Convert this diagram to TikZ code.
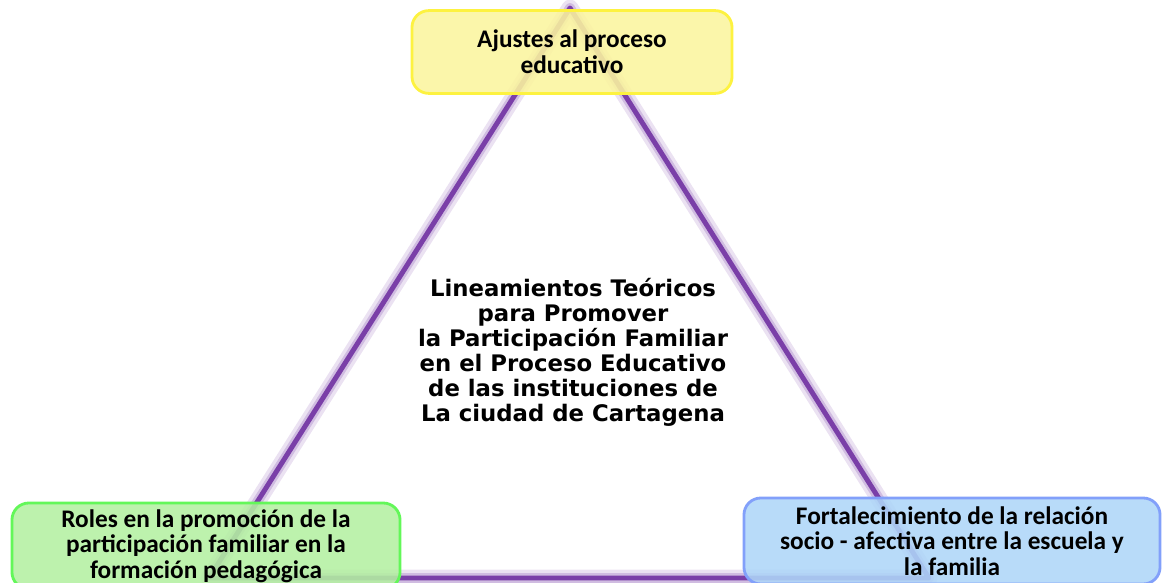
\documentclass[tikz,border=0pt]{standalone}
\usepackage{fontspec}
\setmainfont{Carlito}
\newfontfamily\centrofont{DejaVu Sans}

\definecolor{linea}{HTML}{7A3FA8}
\definecolor{amarillo}{HTML}{FBF59E}
\definecolor{verde}{HTML}{B4F0A2}
\definecolor{azul}{HTML}{AED6F8}

\tikzset{
  caja/.style={rounded corners=12pt, line width=2pt, fill opacity=0.88,
    text opacity=1, align=center, font=\fontsize{18}{18.2}\selectfont\bfseries,
    inner sep=0pt},
}

\begin{document}
\begin{tikzpicture}[x=0.025cm,y=-0.025cm]
\useasboundingbox (0,0) rectangle (1162,583);
\coordinate (a) at (570,8);
\coordinate (b) at (209,578);
\coordinate (c) at (929,578);

% triangulo con brillo
\draw[line width=12pt, linea!15, line join=round] (a)--(b)--(c)--cycle;
\draw[line width=7pt, linea!35, line join=round] (a)--(b)--(c)--cycle;
\draw[line width=3.5pt, linea, line join=round] (a)--(b)--(c)--cycle;

% cajas
\node (p) at (572,52) [caja, fill=amarillo, draw=yellow!60!amarillo, minimum width=8cm, minimum height=2.07cm] {Ajustes al proceso\\educativo};
\node (q) at (206,546) [caja, fill=verde, draw=green!45!verde, minimum width=9.7cm, minimum height=2.15cm] {Roles en la promoción de la\\participación familiar en la\\formación pedagógica};
\node (r) at (952,541) [caja, fill=azul, draw=blue!25!azul, minimum width=10.4cm, minimum height=2.15cm] {Fortalecimiento de la relación\\socio - afectiva entre la escuela y\\la familia};

% texto central
\node (t) at (573,352) [align=center, font=\centrofont\fontsize{16.2}{17.8}\selectfont\bfseries] {Lineamientos Teóricos\\para Promover\\la Participación Familiar\\en el Proceso Educativo\\de las instituciones de\\La ciudad de Cartagena};
\end{tikzpicture}
\end{document}
